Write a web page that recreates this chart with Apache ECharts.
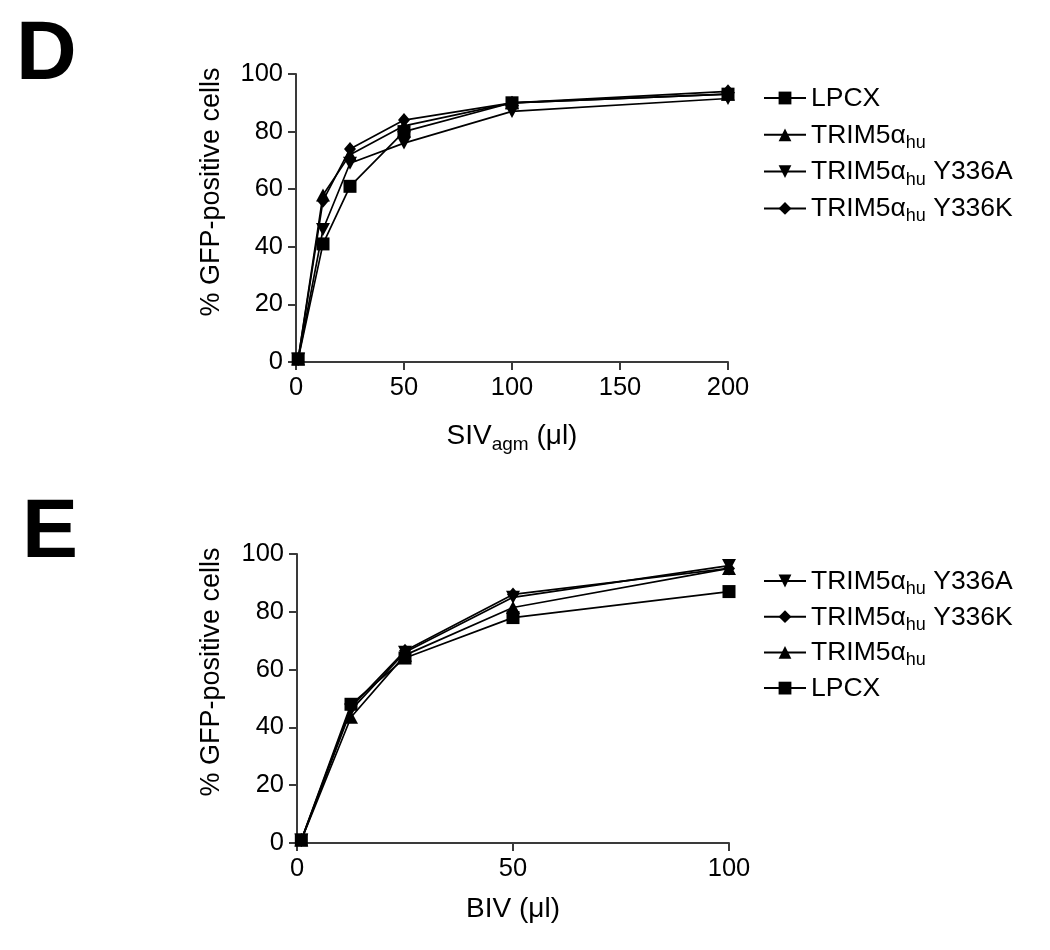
<!DOCTYPE html>
<html>
<head>
<meta charset="utf-8">
<script src="https://cdn.jsdelivr.net/npm/echarts@6/dist/echarts.min.js"></script>
<style>
html,body{margin:0;padding:0;background:#fff;}
#chart{width:1050px;height:950px;}
</style>
</head>
<body>
<div id="chart"></div>
<script>
// ---- Data ----
const seriesNames = ['LPCX', 'TRIM5αhu', 'TRIM5αhu Y336A', 'TRIM5αhu Y336K'];
// Panel D: SIVagm
const xD = [1, 12.5, 25, 50, 100, 200];
const lpcxD  = [1, 41, 61, 80, 90, 93];
const trimD  = [1, 58, 72, 82, 90, 93];
const y336aD = [1, 46, 69, 76, 87, 91.5];
const y336kD = [1, 56, 74, 84, 90, 94];
// Panel E: BIV
const xE = [1, 12.5, 25, 50, 100];
const lpcxE  = [1, 48, 64, 78, 87];
const trimE  = [1, 43.5, 65, 81.5, 95];
const y336aE = [1, 46, 66, 85, 96];
const y336kE = [1, 47, 66.5, 86, 95];
// Axes ticks
const yTicks = [0, 20, 40, 60, 80, 100];
const xTicksD = [0, 50, 100, 150, 200];
const xTicksE = [0, 50, 100];
const legendOrderD = ['LPCX', 'TRIM5αhu', 'TRIM5αhu Y336A', 'TRIM5αhu Y336K'];
const legendOrderE = ['TRIM5αhu Y336A', 'TRIM5αhu Y336K', 'TRIM5αhu', 'LPCX'];

const FONT = '"Liberation Sans", Arial, sans-serif';
const downTri = 'path://M0,0 L10,0 L5,9 Z';
const symbols = ['rect', 'triangle', downTri, 'diamond'];
const symbolSizes = [13, [14, 13], [14, 13], [12, 14]];

function pairs(xs, ys) { return xs.map((x, i) => [x, ys[i]]); }

const dataD = [lpcxD, trimD, y336aD, y336kD];
const dataE = [lpcxE, trimE, y336aE, y336kE];

const series = [];
[dataD, dataE].forEach((set, gi) => {
  const xs = gi === 0 ? xD : xE;
  set.forEach((ys, si) => {
    series.push({
      type: 'line',
      name: seriesNames[si],
      xAxisIndex: gi, yAxisIndex: gi,
      data: pairs(xs, ys),
      symbol: symbols[si],
      symbolSize: symbolSizes[si],
      showAllSymbol: true,
      lineStyle: { color: '#000', width: 1.7 },
      itemStyle: { color: '#000' },
      animation: false
    });
  });
});

function legendFmt(name) {
  if (name.indexOf('TRIM5α') === 0) {
    const rest = name.slice('TRIM5αhu'.length);
    return '{n|TRIM5α}{s|hu}' + (rest ? '{n|' + rest + '}' : '');
  }
  return '{n|' + name + '}';
}
const legendRich = {
  n: { fontFamily: FONT, fontSize: 26.5, color: '#000', lineHeight: 26, padding: [0, 0, 6, 0], verticalAlign: 'top' },
  s: { fontFamily: FONT, fontSize: 18, color: '#000', lineHeight: 18, padding: [12, 0, 2, 0], verticalAlign: 'top' }
};

function yAxisCfg(gi) {
  return {
    type: 'value', gridIndex: gi, min: 0, max: 100, interval: 20,
    axisLine: { show: true, lineStyle: { color: '#3a3a3a', width: 2 } },
    axisTick: { show: true, length: 8, lineStyle: { color: '#3a3a3a', width: 2 } },
    axisLabel: { fontFamily: FONT, fontSize: 25.5, color: '#000', margin: 13 },
    splitLine: { show: false }
  };
}
function xAxisCfg(gi, max, interval) {
  return {
    type: 'value', gridIndex: gi, min: 0, max: max, interval: interval,
    axisLine: { show: true, onZero: false, lineStyle: { color: '#3a3a3a', width: 2 } },
    axisTick: { show: true, length: 8, lineStyle: { color: '#3a3a3a', width: 2 } },
    axisLabel: { fontFamily: FONT, fontSize: 25.5, color: '#000', margin: 13 },
    splitLine: { show: false }
  };
}

const titleRich = {
  n: { fontFamily: FONT, fontSize: 28, fill: '#000', lineHeight: 28, padding: [0, 0, 7, 0], verticalAlign: 'top' },
  s: { fontFamily: FONT, fontSize: 19, fill: '#000', lineHeight: 19, padding: [13, 0, 3, 0], verticalAlign: 'top' }
};

const option = {
  backgroundColor: '#fff',
  animation: false,
  grid: [
    { left: 296, top: 74, width: 432, height: 288 },
    { left: 297, top: 554, width: 432, height: 289 }
  ],
  xAxis: [xAxisCfg(0, 200, 50), xAxisCfg(1, 100, 50)],
  yAxis: [yAxisCfg(0), yAxisCfg(1)],
  legend: [
    {
      data: legendOrderD, orient: 'vertical', left: 758, top: 80,
      itemWidth: 42, itemHeight: 16, itemGap: 3.8, selectedMode: false,
      formatter: legendFmt, textStyle: { rich: legendRich }
    },
    {
      data: legendOrderE, orient: 'vertical', left: 758, top: 563,
      itemWidth: 42, itemHeight: 16, itemGap: 2.7, selectedMode: false,
      formatter: legendFmt, textStyle: { rich: legendRich }
    }
  ],
  graphic: [
    { type: 'text', left: 16, top: 14, style: { text: 'D', font: 'bold 84px ' + FONT, fill: '#000' } },
    { type: 'text', left: 22, top: 492, style: { text: 'E', font: 'bold 84px ' + FONT, fill: '#000' } },
    { type: 'text', x: 212, y: 192, rotation: Math.PI / 2,
      style: { text: '% GFP-positive cells', font: '27px ' + FONT, fill: '#000', align: 'center', verticalAlign: 'middle' } },
    { type: 'text', x: 212, y: 672, rotation: Math.PI / 2,
      style: { text: '% GFP-positive cells', font: '27px ' + FONT, fill: '#000', align: 'center', verticalAlign: 'middle' } },
    { type: 'text', x: 512, y: 436,
      style: { text: '{n|SIV}{s|agm}{n| (μl)}', rich: titleRich, align: 'center', verticalAlign: 'middle' } },
    { type: 'text', x: 513, y: 909,
      style: { text: 'BIV (μl)', font: '28px ' + FONT, fill: '#000', align: 'center', verticalAlign: 'middle' } }
  ],
  series: series
};

const chart = echarts.init(document.getElementById('chart'), null, { renderer: 'canvas' });
chart.setOption(option);
</script>
</body>
</html>
